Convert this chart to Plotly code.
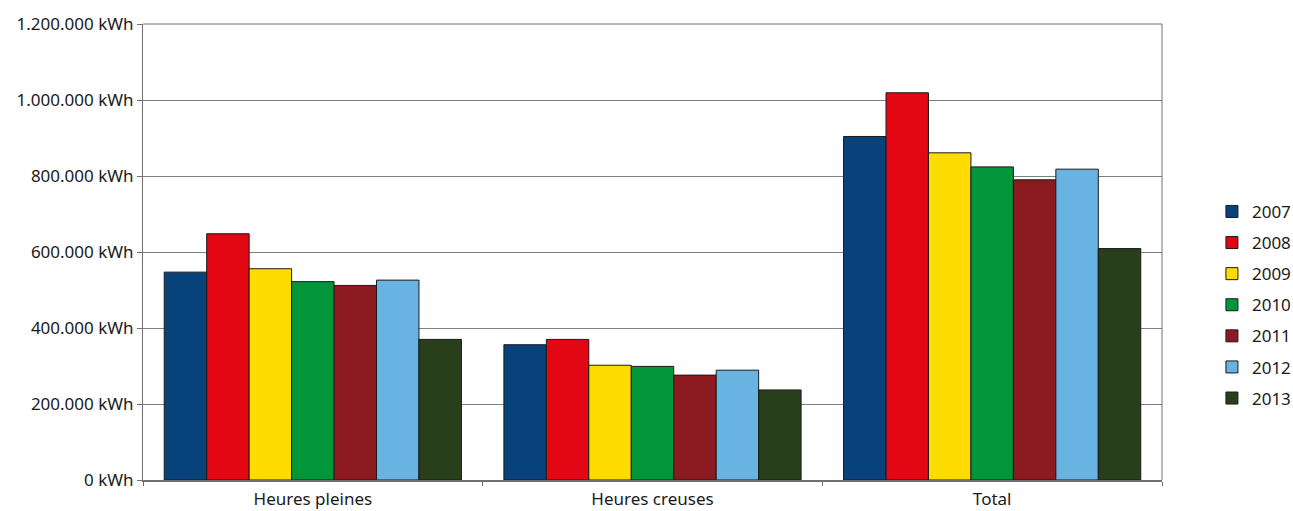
import plotly.graph_objects as go

# Consommation d'électricité par tranche horaire, 2007-2013
categories = ["Heures pleines", "Heures creuses", "Total"]
years = ["2007", "2008", "2009", "2010", "2011", "2012", "2013"]

kwh_2007 = [547000, 356000, 904000]
kwh_2008 = [648000, 370000, 1019000]
kwh_2009 = [556000, 302000, 861000]
kwh_2010 = [522000, 299000, 824000]
kwh_2011 = [512000, 276000, 790000]
kwh_2012 = [526000, 289000, 818000]
kwh_2013 = [370000, 237000, 609000]

series = [kwh_2007, kwh_2008, kwh_2009, kwh_2010, kwh_2011, kwh_2012, kwh_2013]
colors = ["#08427a", "#e30613", "#ffdc00", "#009639", "#8b1a21", "#69b3e2", "#293f1c"]

tick_values = [0, 200000, 400000, 600000, 800000, 1000000, 1200000]
tick_labels = ["0 kWh", "200.000 kWh", "400.000 kWh", "600.000 kWh",
               "800.000 kWh", "1.000.000 kWh", "1.200.000 kWh"]

font_family = "Noto Sans, Open Sans, sans-serif"

fig = go.Figure()
for year, values, color in zip(years, series, colors):
    fig.add_trace(go.Bar(
        name=year,
        x=categories,
        y=values,
        marker=dict(color=color, line=dict(color="#1a1a1a", width=1)),
        legendgroup=year,
    ))

fig.update_layout(
    width=1293,
    height=511,
    margin=dict(l=143, r=131, t=24, b=31, autoexpand=False),
    paper_bgcolor="white",
    plot_bgcolor="white",
    barmode="group",
    bargap=0.125,
    bargroupgap=0,
    font=dict(family=font_family, size=17, color="#1a1a1a"),
    legend=dict(
        x=1.049, xanchor="left", xref="paper",
        y=0.384, yanchor="middle",
        font=dict(size=17),
        tracegroupgap=6,
        itemwidth=30,
        borderwidth=0,
    ),
    showlegend=True,
)

fig.update_xaxes(
    showline=True, linecolor="#707070", linewidth=2,
    ticks="outside", tickson="boundaries", ticklen=4, tickcolor="#707070",
    mirror=False, showgrid=False, automargin=False,
    ticklabelstandoff=3,
    tickfont=dict(size=17),
)
fig.update_yaxes(
    range=[0, 1200000],
    tickvals=tick_values, ticktext=tick_labels,
    showline=True, linecolor="#707070", linewidth=1,
    ticks="outside", ticklen=5, tickcolor="#707070",
    showgrid=True, gridcolor="#808080", gridwidth=1,
    zeroline=False, automargin=False,
    tickfont=dict(size=17),
)

# Cadre : bord supérieur et bord droit de la zone de tracé
fig.add_shape(type="line", xref="paper", yref="paper", x0=0, x1=1, y0=1, y1=1,
              line=dict(color="#707070", width=1))
fig.add_shape(type="line", xref="paper", yref="paper", x0=1, x1=1, y0=0, y1=1,
              line=dict(color="#707070", width=1))

fig.write_html("out.html")
